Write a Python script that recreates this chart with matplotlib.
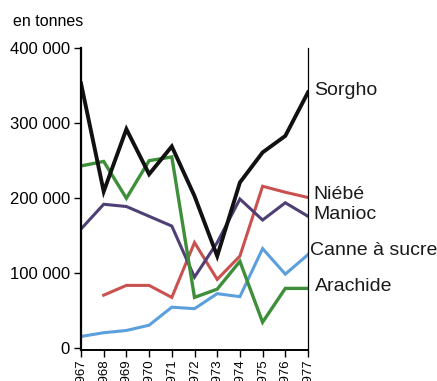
import matplotlib
matplotlib.use("Agg")
import matplotlib.pyplot as plt

plt.rcParams["font.family"] = ["Liberation Sans", "DejaVu Sans"]

years = list(range(1967, 1978))

sorgho = [353000, 209000, 292000, 232000, 269000, 203000, 123000, 221000, 261000, 283000, 341000]
arachide = [243000, 249000, 200000, 250000, 255000, 68000, 79000, 116000, 35000, 80000, 80000]
niebe_years = years[1:]
niebe = [71000, 84000, 84000, 68000, 141000, 92000, 123000, 216000, 208000, 201000]
manioc = [159000, 192000, 189000, 176000, 163000, 95000, 141000, 199000, 171000, 194000, 176000]
canne = [16000, 21000, 24000, 31000, 55000, 53000, 73000, 69000, 133000, 99000, 125000]

yticks = [0, 100000, 200000, 300000, 400000]
ytick_labels = ["0", "100 000", "200 000", "300 000", "400 000"]

labels = ["Sorgho", "Niébé", "Manioc", "Canne à sucre", "Arachide"]
label_y = [343000, 205000, 179000, 130000, 83000]
label_dx = [0.25, 0.25, 0.25, 0.08, 0.3]

fig = plt.figure(figsize=(4.37, 3.81), dpi=100)
ax = fig.add_axes([81 / 437, 1 - 350 / 381, 227 / 437, 302 / 381])

ax.plot(years, canne, color="#5b9fdc", lw=2.2, solid_joinstyle="miter")
ax.plot(niebe_years, niebe, color="#c9514f", lw=2.2, solid_joinstyle="miter")
ax.plot(years, manioc, color="#4e3f74", lw=2.2, solid_joinstyle="miter")
ax.plot(years, arachide, color="#3f8f3a", lw=2.4, solid_joinstyle="miter")
ax.plot(years, sorgho, color="#111111", lw=2.8, solid_joinstyle="miter")

ax.set_xlim(1967, 1977)
ax.set_ylim(-2000, 400000)
ax.set_xticks(years)
ax.set_xticklabels([str(y) for y in years], rotation=90, fontsize=9.5)
ax.set_yticks(yticks)
ax.set_yticklabels(ytick_labels, fontsize=12)
ax.tick_params(axis="y", direction="out", length=5, width=1, pad=3)
ax.tick_params(axis="x", direction="out", length=5, width=1, pad=1)

ax.spines["top"].set_visible(False)
ax.spines["left"].set_linewidth(1.6)
ax.spines["bottom"].set_linewidth(1.4)
ax.spines["right"].set_linewidth(0.9)

for text, y, dx in zip(labels, label_y, label_dx):
    ax.text(1977 + dx, y, text, fontsize=14, va="center", ha="left", color="#1a1a1a")

fig.text(13 / 437, 1 - 21 / 381, "en tonnes", fontsize=11.5, va="center", ha="left")

fig.savefig("out.png", dpi=100)
